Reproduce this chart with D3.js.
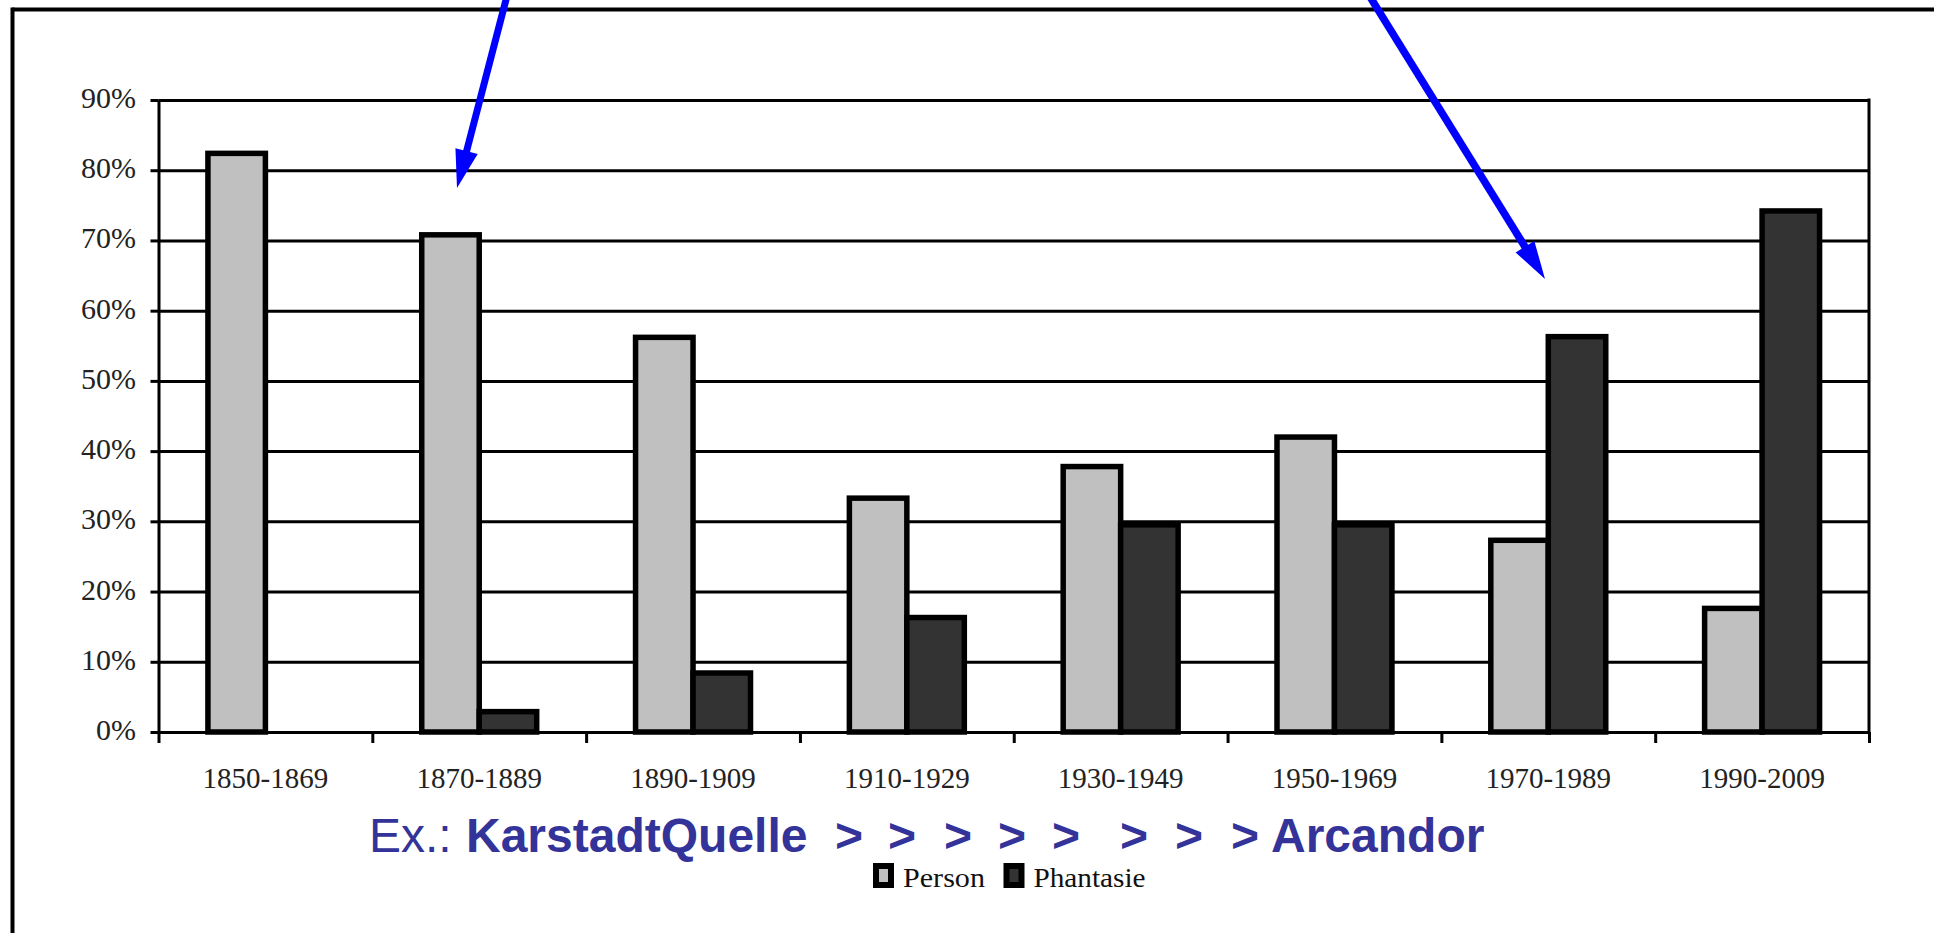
<!DOCTYPE html>
<html>
<head>
<meta charset="utf-8">
<script src="https://cdn.jsdelivr.net/npm/d3@7"></script>
<style>
  html, body { margin: 0; padding: 0; background: #fff; }
  svg { display: block; }
</style>
</head>
<body>
<script>
// ---- data ----
const categories = ["1850-1869", "1870-1889", "1890-1909", "1910-1929", "1930-1949", "1950-1969", "1970-1989", "1990-2009"];
const personValues = [82.4, 70.8, 56.2, 33.3, 37.8, 42.0, 27.3, 17.6];
const phantasieValues = [0, 2.9, 8.4, 16.3, 29.5, 29.5, 56.3, 74.2];
const seriesNames = ["Person", "Phantasie"];
const yTickValues = [0, 10, 20, 30, 40, 50, 60, 70, 80, 90];
const captionPieces = ["Ex.:", "KarstadtQuelle", ">", ">", ">", ">", ">", ">", ">", ">", "Arcandor"];

// ---- styles / layout ----
const W = 1934, H = 933;
const colors = { Person: "#c0c0c0", Phantasie: "#333333" };
const plot = { left: 158.5, right: 1869, top: 100, bottom: 732 };
const blue = "#0000ff";
const captionColor = "#333399";

const svg = d3.select("body").append("svg").attr("width", W).attr("height", H);
svg.append("rect").attr("width", W).attr("height", H).attr("fill", "#fff");

// frame (top and left only visible)
svg.append("line").attr("x1", 12.5).attr("x2", W).attr("y1", 9.5).attr("y2", 9.5)
  .attr("stroke", "#000").attr("stroke-width", 4);
svg.append("line").attr("x1", 12.5).attr("x2", 12.5).attr("y1", 7.5).attr("y2", H)
  .attr("stroke", "#000").attr("stroke-width", 4);

const x = d3.scaleBand().domain(categories).range([plot.left, plot.right]).paddingInner(0).paddingOuter(0);
const xSub = d3.scaleBand().domain(seriesNames).range([0, x.bandwidth()]).paddingInner(0).paddingOuter(0.86);
const y = d3.scaleLinear().domain([0, 90]).range([plot.bottom, plot.top]);
const xIdx = d3.scaleLinear().domain([0, categories.length]).range([plot.left, plot.right]);

// gridlines
const grid = svg.append("g").attr("transform", `translate(${plot.left},0)`)
  .call(d3.axisRight(y).tickValues(yTickValues).tickSize(plot.right - plot.left).tickFormat(""));
grid.select(".domain").remove();
grid.selectAll("line").attr("stroke", "#000").attr("stroke-width", 3);

// right border of plot
svg.append("line").attr("x1", plot.right).attr("x2", plot.right).attr("y1", plot.top - 1.5).attr("y2", plot.bottom)
  .attr("stroke", "#000").attr("stroke-width", 3);

// bars
const rows = categories.map((c, i) => ({ cat: c, Person: personValues[i], Phantasie: phantasieValues[i] }));
const groups = svg.append("g").selectAll("g").data(rows).join("g")
  .attr("transform", d => `translate(${x(d.cat)},0)`);
groups.selectAll("rect")
  .data(d => seriesNames.map(s => ({ s, v: d[s] })).filter(e => e.v > 0))
  .join("rect")
  .attr("x", e => xSub(e.s))
  .attr("width", xSub.bandwidth())
  .attr("y", e => y(e.v))
  .attr("height", e => y(0) - y(e.v))
  .attr("fill", e => colors[e.s])
  .attr("stroke", "#000")
  .attr("stroke-width", 5.5);

// y axis
const yAxis = svg.append("g").attr("transform", `translate(${plot.left},0)`)
  .call(d3.axisLeft(y).tickValues(yTickValues).tickSizeInner(8).tickSizeOuter(0).tickPadding(14.5)
    .tickFormat(d => d + "%"));
yAxis.select(".domain").attr("stroke", "#000").attr("stroke-width", 3);
yAxis.selectAll("line").attr("stroke", "#000").attr("stroke-width", 3);
yAxis.selectAll("text").attr("font-family", "'Liberation Serif', 'DejaVu Serif', serif")
  .attr("font-size", 30).attr("fill", "#222").attr("dy", "0.25em");

// x axis tick marks at category boundaries
const xTicks = svg.append("g").attr("transform", `translate(0,${plot.bottom})`)
  .call(d3.axisBottom(xIdx).ticks(categories.length).tickValues(d3.range(categories.length + 1))
    .tickSizeInner(11).tickSizeOuter(0).tickFormat(""));
xTicks.select(".domain").attr("stroke", "#000").attr("stroke-width", 3);
xTicks.selectAll("line").attr("stroke", "#000").attr("stroke-width", 3);

// x labels
const xLabels = svg.append("g").attr("transform", `translate(0,${plot.bottom})`)
  .call(d3.axisBottom(x).tickSize(0).tickPadding(35.5));
xLabels.select(".domain").remove();
xLabels.selectAll("text").attr("font-family", "'Liberation Serif', 'DejaVu Serif', serif")
  .attr("font-size", 29).attr("fill", "#222");

// caption "Ex.: KarstadtQuelle > > > ... > Arcandor"
const captionX = [369, 466, 835, 888, 944, 998, 1052, 1120, 1175, 1231, 1271];
const captionBold = [false, true, true, true, true, true, true, true, true, true, true];
svg.append("g").selectAll("text").data(captionPieces).join("text")
  .attr("x", (d, i) => captionX[i])
  .attr("y", 852)
  .attr("font-family", "'Liberation Sans', Arial, sans-serif")
  .attr("font-size", 48)
  .attr("font-weight", (d, i) => captionBold[i] ? "bold" : "normal")
  .attr("fill", captionColor)
  .text(d => d);

// legend
const legendPos = { Person: { box: 876, text: 903, len: 82 }, Phantasie: { box: 1006.5, text: 1033.5, len: 112 } };
const legend = svg.append("g").selectAll("g").data(seriesNames).join("g");
legend.append("rect")
  .attr("x", s => legendPos[s].box).attr("y", 866).attr("width", 15).attr("height", 19)
  .attr("fill", s => colors[s]).attr("stroke", "#000").attr("stroke-width", 6);
legend.append("text")
  .attr("x", s => legendPos[s].text).attr("y", 887)
  .attr("font-family", "'Liberation Serif', 'DejaVu Serif', serif")
  .attr("font-size", 28).attr("fill", "#111")
  .attr("textLength", s => legendPos[s].len).attr("lengthAdjust", "spacingAndGlyphs")
  .text(s => s);

// blue arrows
function arrow(x0, y0, tx, ty, headLen, headHalf, width) {
  const dx = tx - x0, dy = ty - y0, L = Math.hypot(dx, dy);
  const ux = dx / L, uy = dy / L, px = -uy, py = ux;
  const bx = tx - ux * headLen, by = ty - uy * headLen;
  svg.append("line").attr("x1", x0).attr("y1", y0).attr("x2", bx + ux * 2).attr("y2", by + uy * 2)
    .attr("stroke", blue).attr("stroke-width", width);
  svg.append("path")
    .attr("d", `M${tx},${ty}L${bx + px * headHalf},${by + py * headHalf}L${bx - px * headHalf},${by - py * headHalf}Z`)
    .attr("fill", blue);
}
arrow(508, -8, 457, 188, 38, 11.5, 7);
arrow(1367, -8, 1545, 279, 38, 11, 7.5);
</script>
</body>
</html>
